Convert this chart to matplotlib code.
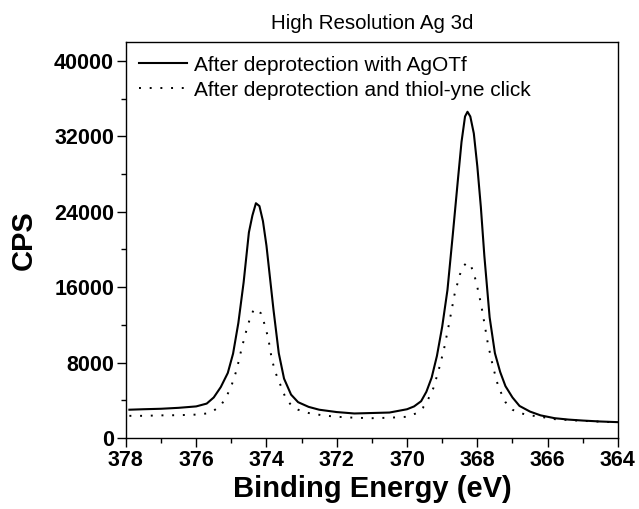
import matplotlib
matplotlib.use("Agg")
import matplotlib.pyplot as plt
from matplotlib.ticker import MultipleLocator

plt.rcParams['font.family'] = ['Liberation Sans', 'DejaVu Sans']

# binding energy (eV) and counts
energy_agotf = [377.9, 377.5, 377.0, 376.5, 376.0, 375.7, 375.5, 375.3, 375.1, 374.95,
                374.8, 374.65, 374.5, 374.4, 374.3, 374.2, 374.1, 374.0, 373.9, 373.8,
                373.65, 373.5, 373.3, 373.1, 372.8, 372.5, 372.0, 371.5, 371.0, 370.5,
                370.0, 369.8, 369.6, 369.45, 369.3, 369.15, 369.0, 368.85, 368.7, 368.55,
                368.45, 368.35, 368.28, 368.2, 368.1, 368.0, 367.9, 367.8, 367.65, 367.5,
                367.35, 367.2, 367.0, 366.8, 366.5, 366.2, 365.8, 365.4, 365.0, 364.5, 364.0]
cps_agotf = [3000, 3050, 3100, 3200, 3350, 3650, 4300, 5400, 6900, 8950,
             12200, 16500, 21800, 23600, 24900, 24600, 23000, 20400, 17000, 13600,
             9000, 6300, 4600, 3800, 3300, 3000, 2750, 2600, 2650, 2700,
             3050, 3350, 3900, 4900, 6400, 8700, 11800, 15700, 21500, 27500,
             31400, 34100, 34600, 34100, 32300, 28800, 24500, 19300, 12800, 9000,
             7000, 5500, 4300, 3400, 2800, 2400, 2100, 1950, 1850, 1750, 1680]

energy_click = [377.9, 377.5, 377.0, 376.5, 376.0, 375.7, 375.5, 375.3, 375.15, 375.0,
                374.85, 374.7, 374.55, 374.45, 374.35, 374.25, 374.15, 374.05, 373.95, 373.85,
                373.75, 373.6, 373.45, 373.3, 373.1, 372.8, 372.4, 372.0, 371.5, 371.0,
                370.5, 370.0, 369.75, 369.55, 369.4, 369.25, 369.1, 368.95, 368.8, 368.65,
                368.5, 368.4, 368.3, 368.2, 368.1, 368.0, 367.9, 367.8, 367.7, 367.55,
                367.4, 367.2, 367.0, 366.8, 366.5, 366.2, 365.8, 365.4, 365.0, 364.5, 364.0]
cps_click = [2350, 2350, 2400, 2420, 2480, 2600, 2900, 3450, 4300, 5500,
             7200, 9600, 11700, 12900, 13700, 13500, 13200, 12000, 10600, 8400,
             7000, 5600, 4200, 3500, 3000, 2650, 2400, 2250, 2150, 2100,
             2150, 2250, 2600, 3200, 4100, 5300, 7200, 9400, 12200, 15200,
             17300, 18200, 18600, 18400, 17500, 16000, 14300, 12200, 10000, 7500,
             5400, 3800, 3000, 2650, 2400, 2250, 2000, 1900, 1820, 1730, 1660]

label_agotf = "After deprotection with AgOTf"
label_click = "After deprotection and thiol-yne click"

fig = plt.figure(figsize=(6.39, 5.09), dpi=100)
fig.subplots_adjust(left=0.197, right=0.967, top=0.9175, bottom=0.1395)
ax = fig.add_subplot(111)

ax.plot(energy_agotf, cps_agotf, color='black', lw=1.5, label=label_agotf,
        solid_joinstyle='round')
ax.plot(energy_click, cps_click, color='black', lw=1.4, linestyle=(0, (1, 4.5)),
        label=label_click)

ax.set_xlim(378, 364)
ax.set_ylim(0, 42000)
ax.xaxis.set_major_locator(MultipleLocator(2))
ax.xaxis.set_minor_locator(MultipleLocator(1))
ax.yaxis.set_major_locator(MultipleLocator(8000))
ax.yaxis.set_minor_locator(MultipleLocator(4000))
ax.tick_params(which='major', direction='out', length=6.5, width=1.0, pad=2)
ax.tick_params(which='minor', direction='out', length=3.5, width=1.0)
for lab in ax.get_xticklabels() + ax.get_yticklabels():
    lab.set_fontsize(15.5)
    lab.set_fontweight('bold')
for sp in ax.spines.values():
    sp.set_linewidth(1.0)

ax.set_xlabel("Binding Energy (eV)", fontsize=21, fontweight='bold', labelpad=3)
ax.set_ylabel("CPS", fontsize=21, fontweight='bold', labelpad=12)
ax.set_title("High Resolution Ag 3d", fontsize=14.8, pad=9)

ax.legend(loc='upper left', frameon=False, fontsize=15, handlelength=2.3,
          handletextpad=0.3, borderaxespad=0.35, borderpad=0.3, labelspacing=0.3)

plt.savefig("out.png", dpi=100)
